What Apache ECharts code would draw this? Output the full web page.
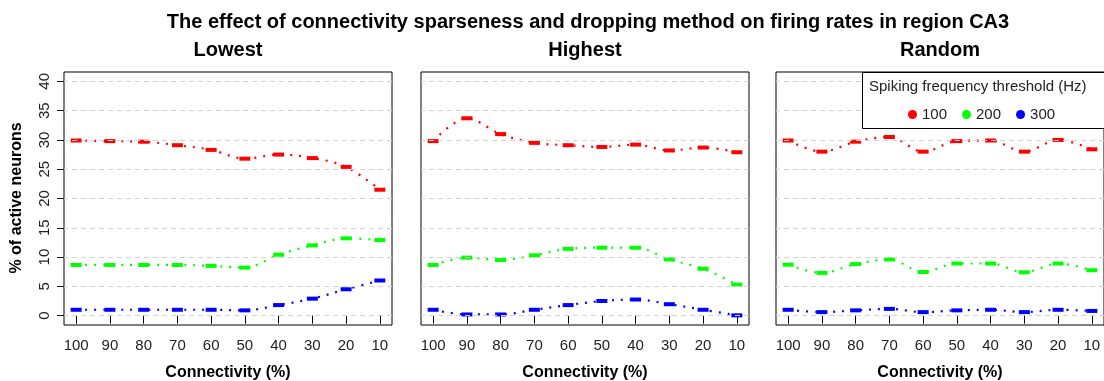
<!DOCTYPE html>
<html>
<head>
<meta charset="utf-8">
<script src="https://cdn.jsdelivr.net/npm/echarts@6/dist/echarts.min.js"></script>
<style>
  html, body { margin: 0; padding: 0; background: #fff; }
  #chart { width: 1104px; height: 381px; }
</style>
</head>
<body>
<div id="chart"></div>
<script>
// Connectivity levels (%) on the x axis, from full to sparse
var connectivity = [100, 90, 80, 70, 60, 50, 40, 30, 20, 10];
var xTicks = [100, 90, 80, 70, 60, 50, 40, 30, 20, 10];
var yTicks = [0, 5, 10, 15, 20, 25, 30, 35, 40];

// % of active neurons per dropping method and spiking threshold
var lowest100  = [29.9, 29.8, 29.7, 29.1, 28.3, 26.8, 27.5, 26.9, 25.4, 21.5];
var lowest200  = [8.65, 8.65, 8.65, 8.65, 8.5, 8.2, 10.4, 12.0, 13.2, 12.9];
var lowest300  = [1.0, 1.0, 1.0, 1.0, 1.0, 0.9, 1.8, 2.9, 4.5, 6.0];

var highest100 = [29.8, 33.7, 31.0, 29.5, 29.1, 28.8, 29.2, 28.2, 28.7, 27.9];
var highest200 = [8.65, 9.9, 9.5, 10.3, 11.4, 11.6, 11.6, 9.6, 8.0, 5.3];
var highest300 = [1.0, 0.2, 0.2, 1.0, 1.8, 2.5, 2.75, 1.95, 1.0, 0.05];

var random100  = [29.9, 28.0, 29.7, 30.5, 28.0, 29.8, 29.9, 28.0, 30.0, 28.4];
var random200  = [8.7, 7.3, 8.8, 9.6, 7.45, 8.9, 8.9, 7.4, 8.9, 7.75];
var random300  = [1.0, 0.6, 0.9, 1.15, 0.6, 0.9, 1.0, 0.6, 1.0, 0.8];

var panelTitles = ['Lowest', 'Highest', 'Random'];
var thresholds = ['100', '200', '300'];
var colors = ['#ff0000', '#00ff00', '#0000ff'];

var panels = [
  [lowest100, lowest200, lowest300],
  [highest100, highest200, highest300],
  [random100, random200, random300]
];

var FONT = 'Liberation Sans, Arial, Helvetica, sans-serif';
var gridLefts = [64, 421, 776];
var gridWidth = 328;
var panelCenters = [228, 585, 940];

var grids = [], xAxes = [], yAxes = [], series = [];

panels.forEach(function (panel, p) {
  grids.push({
    left: gridLefts[p], top: 72, width: gridWidth, height: 253,
    outerBoundsMode: 'none', containLabel: false,
    show: true, borderColor: '#000', borderWidth: 1, backgroundColor: 'transparent'
  });
  xAxes.push({
    gridIndex: p, type: 'value', inverse: true, min: 6.4, max: 103.6,
    axisLine: { show: false },
    splitLine: { show: false },
    axisTick: { show: true, customValues: xTicks, length: 8, lineStyle: { color: '#000' } },
    axisLabel: { show: true, customValues: xTicks, margin: 13, color: '#222',
      fontFamily: FONT, fontSize: 15 },
    name: 'Connectivity (%)', nameLocation: 'middle', nameGap: 40,
    nameTextStyle: { fontFamily: FONT, fontSize: 16, fontWeight: 'bold', color: '#000' }
  });
  yAxes.push({
    gridIndex: p, type: 'value', min: -1.6, max: 41.6,
    axisLine: { show: false },
    splitLine: { show: false },
    axisTick: { show: p === 0, customValues: yTicks, length: 7, lineStyle: { color: '#000' } },
    axisLabel: { show: p === 0, customValues: yTicks, rotate: 90, margin: 12,
      color: '#222', fontFamily: FONT, fontSize: 15 }
  });

  // dashed horizontal reference lines at every y tick
  series.push({
    type: 'line', xAxisIndex: p, yAxisIndex: p, data: [], z: 1, silent: true,
    markLine: {
      silent: true, symbol: 'none', label: { show: false },
      lineStyle: { color: '#d3d3d3', type: [5, 4], width: 1 },
      data: yTicks.map(function (v) { return { yAxis: v }; })
    }
  });

  panel.forEach(function (vals, k) {
    series.push({
      name: thresholds[k], type: 'line', xAxisIndex: p, yAxisIndex: p,
      data: connectivity.map(function (c, i) { return [c, vals[i]]; }),
      smooth: 0.35,
      symbol: 'rect', symbolSize: [11, 4], showSymbol: true,
      itemStyle: { color: colors[k], borderColor: colors[k], borderWidth: 0 },
      lineStyle: { color: colors[k], width: 2.2, type: [2, 7] },
      z: 3
    });
  });
});

var titleStyle = function (text, size, x, y) {
  return { type: 'text', x: x, y: y, z: 10,
    style: { text: text, font: 'bold ' + size + 'px ' + FONT, fill: '#000',
      align: 'center', verticalAlign: 'middle' } };
};

var option = {
  animation: false,
  backgroundColor: '#fff',
  grid: grids,
  xAxis: xAxes,
  yAxis: yAxes,
  series: series,
  legend: {
    data: thresholds.map(function (t) { return { name: t, icon: 'circle' }; }),
    left: 903, top: 102, orient: 'horizontal',
    itemWidth: 9, itemHeight: 9, itemGap: 15,
    textStyle: { fontFamily: FONT, fontSize: 15, color: '#222' },
    z: 20
  },
  graphic: [
    titleStyle('The effect of connectivity sparseness and dropping method on firing rates in region CA3', 20, 588, 22),
    titleStyle(panelTitles[0], 20, panelCenters[0], 50),
    titleStyle(panelTitles[1], 20, panelCenters[1], 50),
    titleStyle(panelTitles[2], 20, panelCenters[2], 50),
    { type: 'text', x: 17, y: 198, rotation: Math.PI / 2, z: 10,
      style: { text: '% of active neurons', font: 'bold 16px ' + FONT, fill: '#000', align: 'center', verticalAlign: 'middle' } },
    // legend frame and heading
    { type: 'rect', z: 15, shape: { x: 862.5, y: 72.5, width: 260, height: 56 },
      style: { fill: '#fff', stroke: '#000', lineWidth: 1 } },
    { type: 'text', x: 869, y: 87, z: 16,
      style: { text: 'Spiking frequency threshold (Hz)', font: '15px ' + FONT, fill: '#222', align: 'left', verticalAlign: 'middle' } }
  ]
};

var chart = echarts.init(document.getElementById('chart'), null, { renderer: 'canvas' });
chart.setOption(option);
</script>
</body>
</html>
